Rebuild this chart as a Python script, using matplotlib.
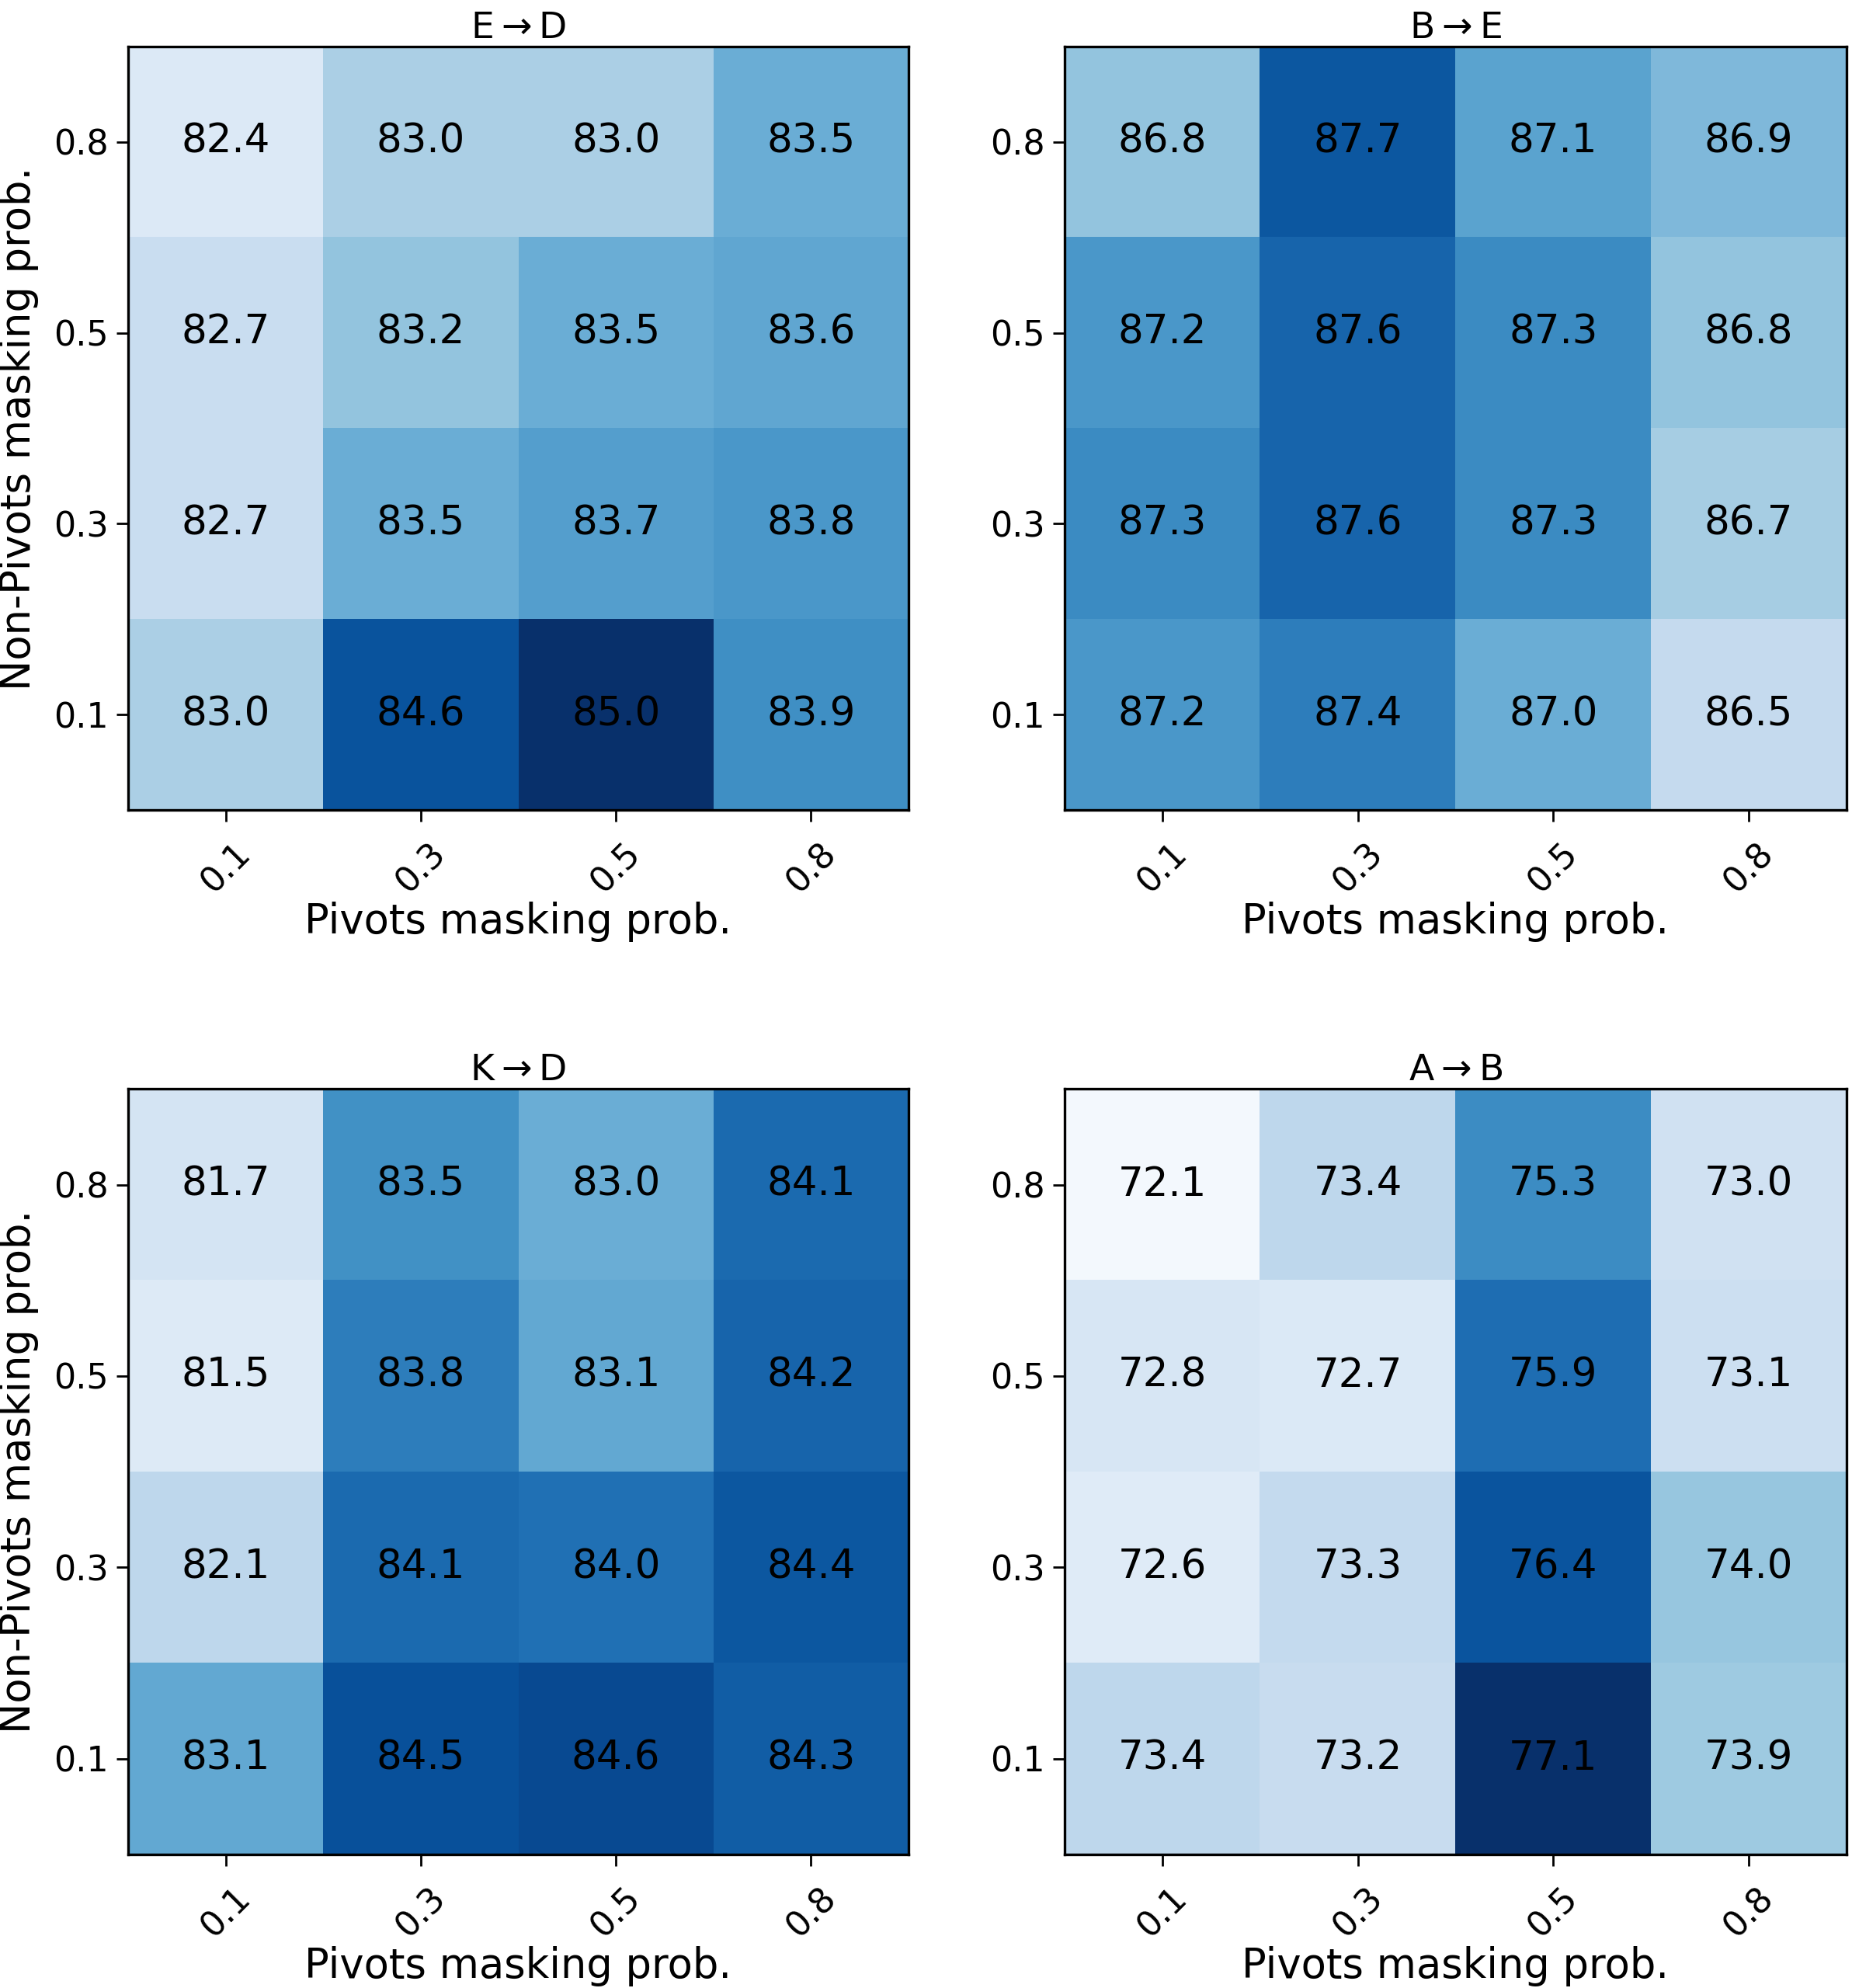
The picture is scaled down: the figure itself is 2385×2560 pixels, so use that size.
import matplotlib
matplotlib.use("Agg")
import matplotlib.pyplot as plt
import numpy as np

pivot_probs = ["0.1", "0.3", "0.5", "0.8"]          # x tick labels
nonpivot_probs = ["0.8", "0.5", "0.3", "0.1"]       # y tick labels, top to bottom

titles = ["E$\\rightarrow$D", "B$\\rightarrow$E", "K$\\rightarrow$D", "A$\\rightarrow$B"]

ed_values = [[82.4, 83.0, 83.0, 83.5],
             [82.7, 83.2, 83.5, 83.6],
             [82.7, 83.5, 83.7, 83.8],
             [83.0, 84.6, 85.0, 83.9]]
be_values = [[86.8, 87.7, 87.1, 86.9],
             [87.2, 87.6, 87.3, 86.8],
             [87.3, 87.6, 87.3, 86.7],
             [87.2, 87.4, 87.0, 86.5]]
kd_values = [[81.7, 83.5, 83.0, 84.1],
             [81.5, 83.8, 83.1, 84.2],
             [82.1, 84.1, 84.0, 84.4],
             [83.1, 84.5, 84.6, 84.3]]
ab_values = [[72.1, 73.4, 75.3, 73.0],
             [72.8, 72.7, 75.9, 73.1],
             [72.6, 73.3, 76.4, 74.0],
             [73.4, 73.2, 77.1, 73.9]]

color_min = [82.0, 86.0, 81.0, 72.0]
color_max = [85.0, 88.0, 85.0, 77.1]

panels = [ed_values, be_values, kd_values, ab_values]

fig = plt.figure(figsize=(2385 / 200, 2560 / 200), dpi=200)
positions = [
    [0.0692, 0.5926, 0.4214, 0.384],
    [0.5748, 0.5926, 0.4222, 0.384],
    [0.0692, 0.0672, 0.4214, 0.385],
    [0.5748, 0.0672, 0.4222, 0.385],
]

for i, (vals, title, pos) in enumerate(zip(panels, titles, positions)):
    ax = fig.add_axes(pos)
    data = np.array(vals)
    ax.imshow(data, cmap="Blues", vmin=color_min[i], vmax=color_max[i], aspect="auto")
    for r in range(data.shape[0]):
        for c in range(data.shape[1]):
            ax.text(c, r, f"{data[r, c]:.1f}", ha="center", va="center",
                    color="black", fontsize=18.5)
    ax.set_xticks(range(len(pivot_probs)))
    ax.set_xticklabels(pivot_probs, rotation=45, fontsize=16)
    ax.set_yticks(range(len(nonpivot_probs)))
    ax.set_yticklabels(nonpivot_probs, fontsize=16)
    ax.tick_params(length=5.5, width=1)
    ax.tick_params(axis="x", pad=7)
    ax.set_title(title, fontsize=17, pad=4)
    ax.set_xlabel("Pivots masking prob.", fontsize=19, labelpad=1)
    if i % 2 == 0:
        ax.set_ylabel("Non-Pivots masking prob.", fontsize=19, labelpad=7)
    for s in ax.spines.values():
        s.set_linewidth(1.2)

fig.savefig("out.png", dpi=200)
